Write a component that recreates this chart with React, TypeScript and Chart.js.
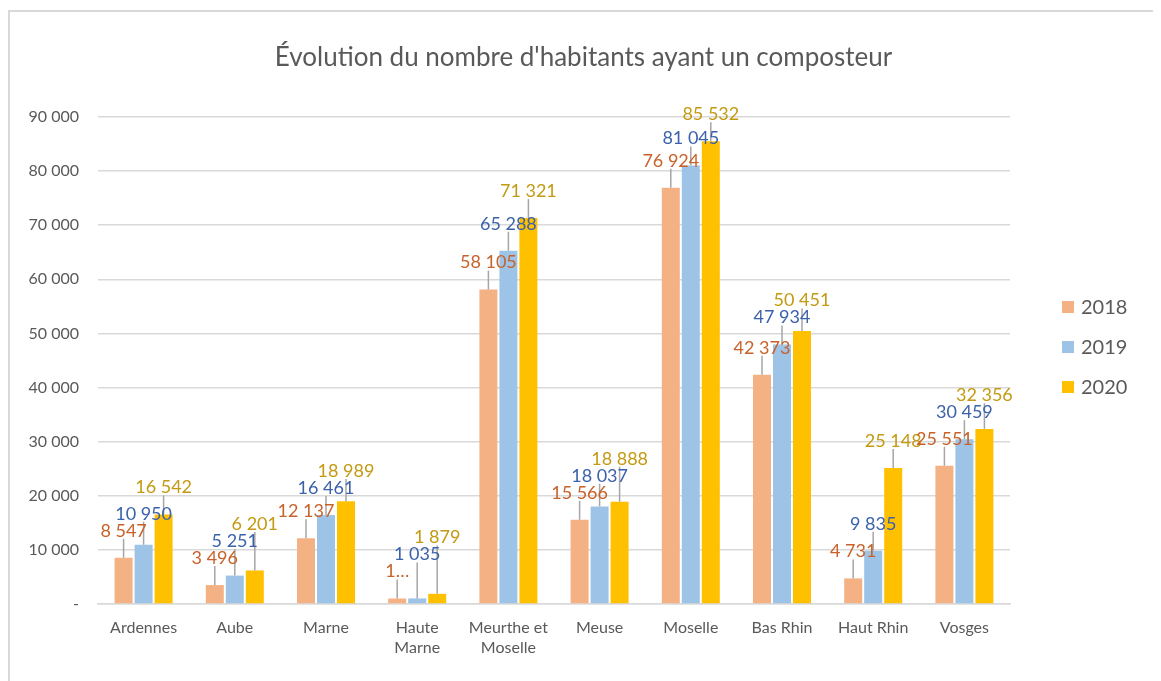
import React, { useEffect, useRef } from "react";
import { Chart, registerables } from "chart.js";

Chart.register(...registerables);

const TITLE = "Évolution du nombre d'habitants ayant un composteur";
const categories: string[][] = [
  ["Ardennes"],
  ["Aube"],
  ["Marne"],
  ["Haute", "Marne"],
  ["Meurthe et", "Moselle"],
  ["Meuse"],
  ["Moselle"],
  ["Bas Rhin"],
  ["Haut Rhin"],
  ["Vosges"],
];
const seriesNames = ["2018", "2019", "2020"];
const values2018 = [8547, 3496, 12137, 1012, 58105, 15566, 76924, 42373, 4731, 25551];
const values2019 = [10950, 5251, 16461, 1035, 65288, 18037, 81045, 47934, 9835, 30459];
const values2020 = [16542, 6201, 18989, 1879, 71321, 18888, 85532, 50451, 25148, 32356];
const yMin = 0;
const yMax = 90000;
const yStep = 10000;
// the 2018 label of "Haute Marne" is shown truncated in the reference
const truncatedLabel = { series: 0, index: 3, text: "1…" };

const barColors = ["#F4B183", "#9DC3E6", "#FFC000"];
const labelColors = ["#C8622A", "#3B62AB", "#C39A12"];
const FONT = "Lato, 'Noto Sans', sans-serif";
const TEXT_GREY = "#595959";

const fmt = (v: number) =>
  v === 0 ? "-" : String(Math.round(v)).replace(/\B(?=(\d{3})+(?!\d))/g, " ");

const dataLabelPlugin = {
  id: "dataLabelPlugin",
  afterDatasetsDraw(chart: any) {
    const ctx = chart.ctx;
    ctx.save();
    ctx.font = `18px ${FONT}`;
    ctx.textAlign = "center";
    ctx.textBaseline = "middle";
    const n = chart.data.labels.length;
    const LINE_H = 17;
    for (let i = 0; i < n; i++) {
      const placed: { x: number; y: number; w: number }[] = [];
      const items: any[] = [];
      chart.data.datasets.forEach((ds: any, d: number) => {
        const el = chart.getDatasetMeta(d).data[i];
        if (!el) return;
        const v = ds.data[i];
        const text =
          d === truncatedLabel.series && i === truncatedLabel.index ? truncatedLabel.text : fmt(v);
        const w = ctx.measureText(text).width;
        const x = el.x;
        const top = el.y;
        let y = top - 27;
        let moved = true;
        while (moved) {
          moved = false;
          for (const p of placed) {
            if (Math.abs(p.x - x) < (p.w + w) / 2 + 2 && Math.abs(p.y - y) < LINE_H) {
              y = p.y - LINE_H;
              moved = true;
            }
          }
        }
        placed.push({ x, y, w });
        items.push({ x, y, top, text, d });
      });
      ctx.strokeStyle = "#A6A6A6";
      ctx.lineWidth = 1.5;
      for (const it of items) {
        const bottom = it.y + 8;
        if (it.top - bottom > 3) {
          ctx.beginPath();
          ctx.moveTo(it.x, it.top);
          ctx.lineTo(it.x, bottom);
          ctx.stroke();
        }
      }
      for (const it of items) {
        ctx.fillStyle = labelColors[it.d];
        ctx.fillText(it.text, it.x, it.y);
      }
    }
    ctx.restore();
  },
};

const titleLegendPlugin = {
  id: "titleLegendPlugin",
  afterDraw(chart: any) {
    const ctx = chart.ctx;
    ctx.save();
    ctx.fillStyle = TEXT_GREY;
    ctx.font = `26px ${FONT}`;
    ctx.textAlign = "center";
    ctx.textBaseline = "middle";
    ctx.fillText(TITLE, chart.width / 2 - 2, 46);

    ctx.font = `20px ${FONT}`;
    ctx.textAlign = "left";
    chart.data.datasets.forEach((ds: any, d: number) => {
      const cy = 295 + d * 40;
      ctx.fillStyle = ds.backgroundColor;
      ctx.fillRect(1052, cy - 6, 12, 12);
      ctx.fillStyle = TEXT_GREY;
      ctx.fillText(ds.label, 1071, cy + 1);
    });
    ctx.restore();
  },
};

export default function App() {
  const ref = useRef<HTMLCanvasElement | null>(null);
  useEffect(() => {
    if (!ref.current) return;
    const chart = new Chart(ref.current, {
      type: "bar",
      data: {
        labels: categories,
        datasets: [values2018, values2019, values2020].map((vals, d) => ({
          label: seriesNames[d],
          data: vals,
          backgroundColor: barColors[d],
          borderWidth: 0,
          categoryPercentage: 0.658,
          barPercentage: 0.9,
        })),
      },
      options: {
        animation: false,
        responsive: true,
        maintainAspectRatio: false,
        layout: { padding: { left: 0, right: 151, top: 105, bottom: 0 } },
        plugins: {
          legend: { display: false },
          title: { display: false },
          tooltip: { enabled: false },
        },
        scales: {
          x: {
            grid: { display: false, drawTicks: false },
            border: { display: true, color: "#D9D9D9", width: 1.5 },
            ticks: {
              color: TEXT_GREY,
              font: { family: FONT, size: 16, lineHeight: 1.3 },
              padding: 13,
              maxRotation: 0,
              autoSkip: false,
            },
            afterFit(scale: any) {
              scale.height = 77;
            },
          },
          y: {
            min: yMin,
            max: yMax,
            grid: { color: "#D9D9D9", lineWidth: 1.5, drawTicks: false },
            border: { display: false },
            ticks: {
              stepSize: yStep,
              color: TEXT_GREY,
              font: { family: FONT, size: 16 },
              padding: 19,
              callback: (v: any) => fmt(Number(v)),
            },
            afterFit(scale: any) {
              scale.width = 88;
            },
          },
        },
      },
      plugins: [dataLabelPlugin, titleLegendPlugin],
    });
    return () => chart.destroy();
  }, []);

  return (
    <div
      style={{
        marginTop: 2,
        width: 1151,
        height: 669,
        borderLeft: "2px solid #D9D9D9",
        borderTop: "2px solid #D9D9D9",
        position: "relative",
        background: "#fff",
      }}
    >
      <canvas ref={ref} />
    </div>
  );
}
